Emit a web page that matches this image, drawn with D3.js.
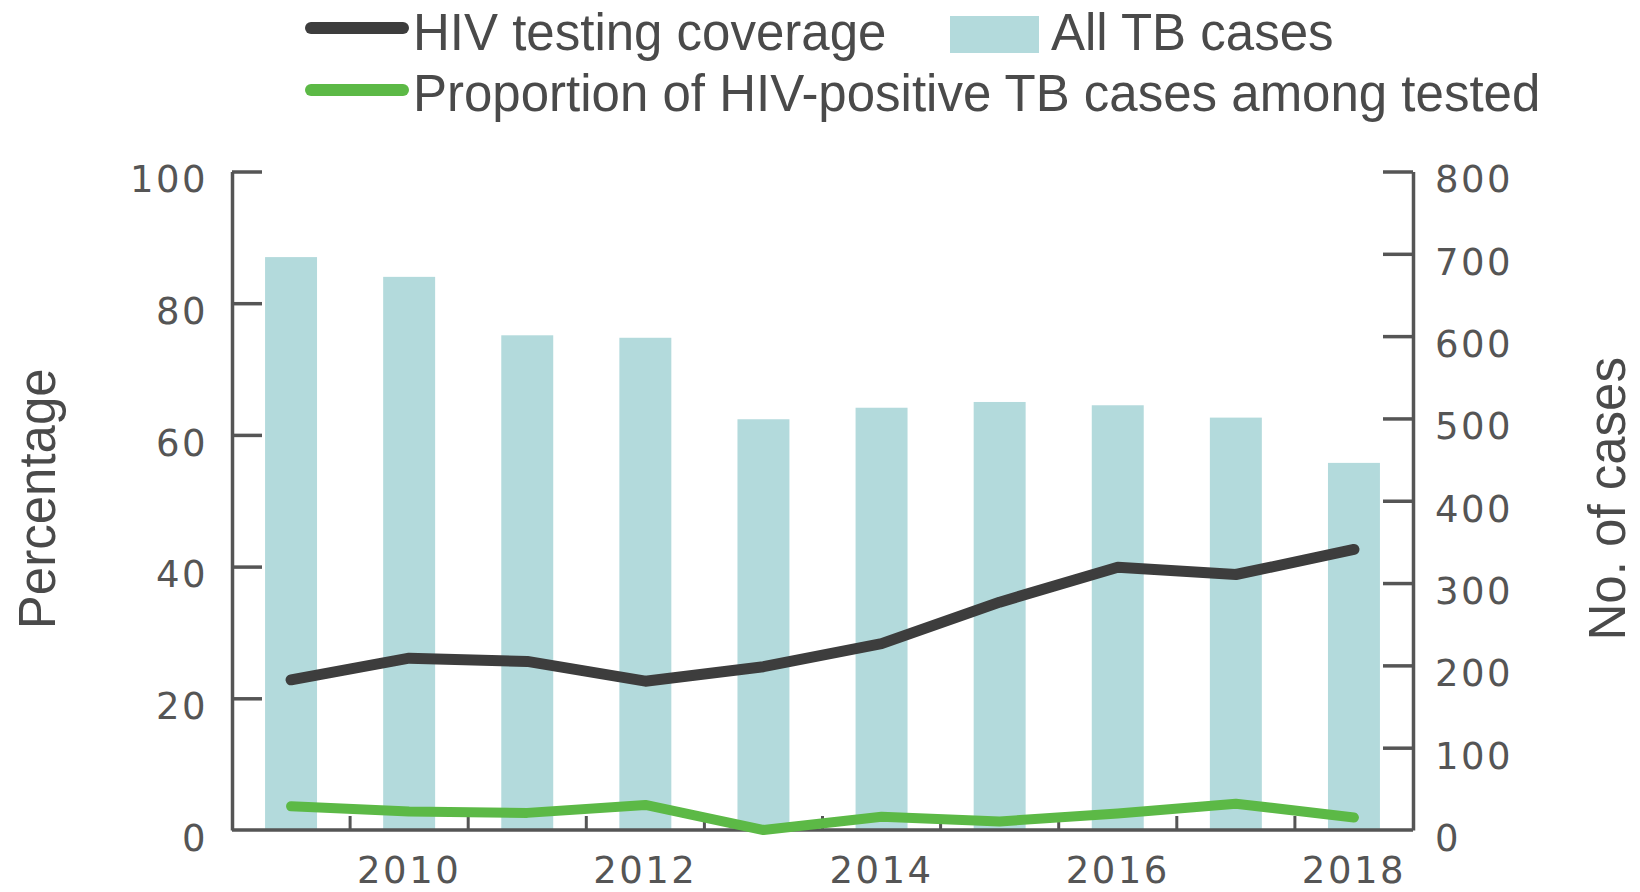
<!DOCTYPE html>
<html>
<head>
<meta charset="utf-8">
<script src="https://cdn.jsdelivr.net/npm/d3@7"></script>
<style>
  body { margin: 0; background: #fff; }
  svg { display: block; }
  .lbl { font-family: "Liberation Sans", Arial, sans-serif; fill: #4a4a4a; }
  .tk { font-family: "DejaVu Sans", sans-serif; fill: #555; font-size: 37px; letter-spacing: 2.5px; }
</style>
</head>
<body>
<div id="vis"></div>
<script>
// data
var years = [2009, 2010, 2011, 2012, 2013, 2014, 2015, 2016, 2017, 2018];
var tbCases = [696, 672, 601, 598, 499, 513, 520, 516, 501, 446];
var hivCoverage = [22.8, 26.1, 25.6, 22.6, 24.8, 28.3, 34.6, 39.9, 38.8, 42.6];
var hivPositive = [3.6, 2.8, 2.6, 3.8, 0.0, 2.0, 1.3, 2.5, 4.0, 1.9];
var pctTicks = [0, 20, 40, 60, 80, 100];
var caseTicks = [0, 100, 200, 300, 400, 500, 600, 700, 800];
var yearLabels = [2010, 2012, 2014, 2016, 2018];

var W = 1640, H = 892;
var margin = {top: 171.5, right: 227, bottom: 62, left: 232};
var x0 = margin.left, x1 = W - margin.right, yTop = margin.top, yBot = H - margin.bottom;

var svg = d3.select("#vis").append("svg")
  .attr("width", W).attr("height", H);

var x = d3.scaleBand().domain(years).range([x0, x1])
  .paddingInner(0.56).paddingOuter(0.28);
var yPct = d3.scaleLinear().domain([0, 100]).range([yBot, yTop]);
var yCases = d3.scaleLinear().domain([0, 800]).range([yBot, yTop]);
var cx = function(d) { return x(d) + x.bandwidth() / 2; };

// bars
svg.append("g").selectAll("rect")
  .data(years)
  .enter().append("rect")
  .attr("x", function(d) { return x(d); })
  .attr("width", x.bandwidth())
  .attr("y", function(d, i) { return yCases(tbCases[i]); })
  .attr("height", function(d, i) { return yBot - yCases(tbCases[i]); })
  .style("fill", "#b3dadc");

// axes
var axCol = "#555";
var gl = svg.append("g").attr("transform", "translate(" + x0 + ",0)")
  .call(d3.axisLeft(yPct).tickValues(pctTicks).tickSizeInner(-30).tickSizeOuter(0).tickPadding(24));
var gr = svg.append("g").attr("transform", "translate(" + x1 + ",0)")
  .call(d3.axisRight(yCases).tickValues(caseTicks).tickSizeInner(-30).tickSizeOuter(0).tickPadding(22));
[gl, gr].forEach(function(g) {
  g.select(".domain").attr("stroke", axCol).attr("stroke-width", 3.5);
  g.selectAll(".tick line").attr("stroke", axCol).attr("stroke-width", 3.5);
  g.selectAll(".tick text").attr("class", "tk").attr("dy", "0.55em");
});
gl.selectAll(".tick").filter(function(d) { return d === 0; }).select("line").remove();
gr.selectAll(".tick").filter(function(d) { return d === 0; }).select("line").remove();

// x axis: ticks between bands, labels on even years
var bounds = years.slice(1).map(function(d) { return x(d) - x.step() * x.paddingInner() / 2; });
svg.append("g").selectAll("line")
  .data(bounds)
  .enter().append("line")
  .attr("x1", function(d) { return d; }).attr("x2", function(d) { return d; })
  .attr("y1", yBot).attr("y2", yBot - 14)
  .attr("stroke", axCol).attr("stroke-width", 3);
svg.append("line")
  .attr("x1", x0).attr("x2", x1).attr("y1", yBot).attr("y2", yBot)
  .attr("stroke", axCol).attr("stroke-width", 3.5);
svg.append("g").selectAll("text")
  .data(yearLabels)
  .enter().append("text")
  .attr("class", "tk")
  .attr("x", cx)
  .attr("y", yBot + 53)
  .attr("text-anchor", "middle")
  .text(function(d) { return d; });

// lines
var line = function(vals) {
  return d3.line()
    .x(function(d, i) { return cx(years[i]); })
    .y(function(d) { return yPct(d); })(vals);
};
svg.append("path").attr("d", line(hivCoverage))
  .attr("fill", "none").attr("stroke", "#3d3d3d").attr("stroke-width", 11)
  .attr("stroke-linejoin", "round").attr("stroke-linecap", "round");
svg.append("path").attr("d", line(hivPositive))
  .attr("fill", "none").attr("stroke", "#5cb946").attr("stroke-width", 10)
  .attr("stroke-linejoin", "round").attr("stroke-linecap", "round");

// axis titles
svg.append("text").attr("class", "lbl")
  .attr("transform", "translate(55," + ((yTop + yBot) / 2 - 2) + ") rotate(-90)")
  .attr("text-anchor", "middle").style("font-size", "51px")
  .text("Percentage");
svg.append("text").attr("class", "lbl")
  .attr("transform", "translate(1625," + ((yTop + yBot) / 2 - 2) + ") rotate(-90)")
  .attr("text-anchor", "middle").style("font-size", "51px")
  .text("No. of cases");

// legend
var lg = svg.append("g");
lg.append("line").attr("x1", 311).attr("x2", 403).attr("y1", 28).attr("y2", 28)
  .attr("stroke", "#3d3d3d").attr("stroke-width", 12).attr("stroke-linecap", "round");
lg.append("text").attr("class", "lbl").attr("x", 413).attr("y", 50)
  .style("font-size", "51px").text("HIV testing coverage");
lg.append("rect").attr("x", 950).attr("y", 16).attr("width", 89).attr("height", 37)
  .style("fill", "#b3dadc");
lg.append("text").attr("class", "lbl").attr("x", 1051).attr("y", 50)
  .style("font-size", "51px").text("All TB cases");
lg.append("line").attr("x1", 311).attr("x2", 403).attr("y1", 90).attr("y2", 90)
  .attr("stroke", "#5cb946").attr("stroke-width", 12).attr("stroke-linecap", "round");
lg.append("text").attr("class", "lbl").attr("x", 413).attr("y", 111)
  .style("font-size", "51px").text("Proportion of HIV-positive TB cases among tested");
</script>
</body>
</html>
